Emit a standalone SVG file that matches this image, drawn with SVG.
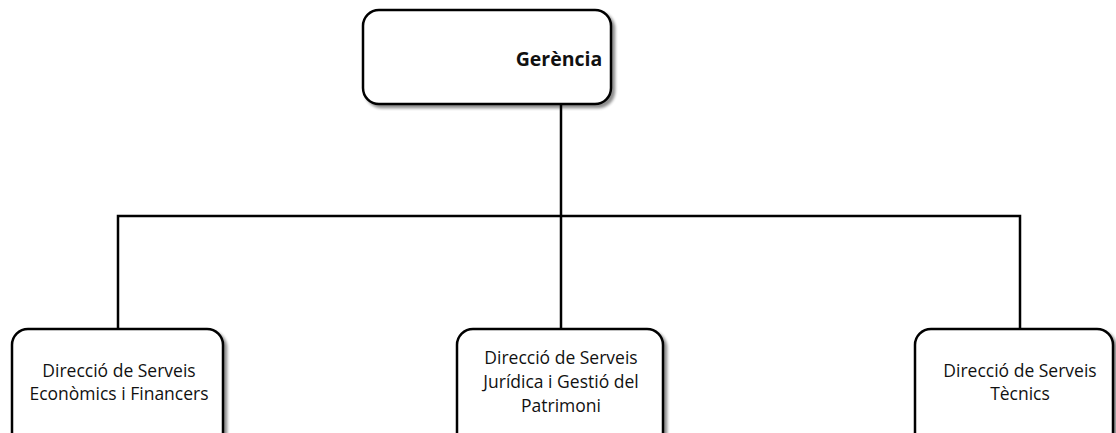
<svg xmlns="http://www.w3.org/2000/svg" width="1116" height="433" viewBox="0 0 1116 433">
<style>
.box{fill:#fff;stroke:#000;stroke-width:2.5;filter:url(#sh)}
.t{font-family:"Open Sans","Liberation Sans",sans-serif;font-size:17.5px;fill:#111;text-anchor:middle}
.b{font-weight:bold;font-size:19.5px}
.c{fill:none;stroke:#000;stroke-width:2.5}
</style>
<defs>
<filter id="sh" x="-10%" y="-10%" width="130%" height="130%">
<feGaussianBlur in="SourceAlpha" stdDeviation="1.5"/>
<feOffset dx="3" dy="3" result="o"/>
<feComponentTransfer><feFuncA type="linear" slope="0.45"/></feComponentTransfer>
<feMerge><feMergeNode/><feMergeNode in="SourceGraphic"/></feMerge>
</filter>
</defs>
<g id="connectors">
<path class="c" d="M561 104 V216"/>
<path class="c" d="M118 329 V216 H1020 V329"/>
<path class="c" d="M561 216 V329"/>
</g>
<g id="gerencia">
<rect class="box" x="363" y="10" width="248" height="94" rx="16"/>
<text class="t b" x="559" y="66">Gerència</text>
</g>
<g id="economics">
<rect class="box" x="12" y="329" width="211" height="120" rx="16"/>
<text class="t" x="119" y="377">Direcció de Serveis</text>
<text class="t" x="119" y="400">Econòmics i Financers</text>
</g>
<g id="juridica">
<rect class="box" x="457" y="329" width="206" height="120" rx="16"/>
<text class="t" x="561" y="364">Direcció de Serveis</text>
<text class="t" x="561" y="388">Jurídica i Gestió del</text>
<text class="t" x="561" y="412">Patrimoni</text>
</g>
<g id="tecnics">
<rect class="box" x="915" y="329" width="198" height="120" rx="16"/>
<text class="t" x="1020" y="377">Direcció de Serveis</text>
<text class="t" x="1020" y="400">Tècnics</text>
</g>
</svg>
